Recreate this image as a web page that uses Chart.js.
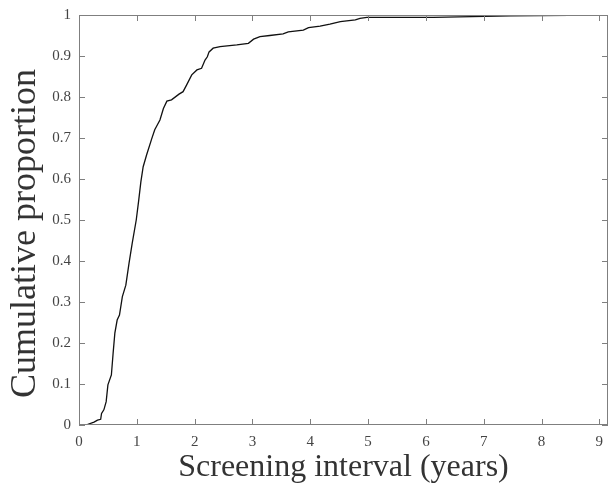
<!DOCTYPE html>
<html>
<head>
<meta charset="utf-8">
<script src="https://cdn.jsdelivr.net/npm/chart.js@4"></script>
<style>
  body { margin: 0; background: #fff; }
  canvas { display: block; }
</style>
</head>
<body>
<canvas id="myChart" width="613" height="489"></canvas>
<script>
// screening interval in years vs cumulative proportion
const intervalYears = [0.12, 0.26, 0.32, 0.375, 0.39, 0.43, 0.47, 0.50, 0.56, 0.59, 0.62, 0.66, 0.70, 0.75, 0.81, 0.865, 0.92, 0.99,
  1.03, 1.07, 1.11, 1.17, 1.26, 1.31, 1.40, 1.46, 1.52, 1.60, 1.73, 1.80, 1.86, 1.95, 2.04, 2.12, 2.18, 2.22, 2.25, 2.32, 2.44,
  2.73, 2.93, 3.02, 3.13, 3.30, 3.53, 3.62, 3.88, 3.97, 4.17, 4.34, 4.52, 4.78, 4.86, 4.98, 6.13, 7.46, 9.0];
const cumProportion = [0.0, 0.007, 0.012, 0.014, 0.028, 0.037, 0.057, 0.098, 0.122, 0.175, 0.224, 0.256, 0.268, 0.313, 0.341, 0.394, 0.443, 0.50,
  0.545, 0.593, 0.630, 0.659, 0.699, 0.720, 0.744, 0.772, 0.790, 0.793, 0.807, 0.813, 0.829, 0.854, 0.866, 0.870, 0.890, 0.898, 0.910, 0.919, 0.923,
  0.927, 0.931, 0.941, 0.947, 0.950, 0.954, 0.959, 0.963, 0.969, 0.973, 0.978, 0.984, 0.988, 0.992, 0.994, 0.994, 0.998, 1.0];

const xTickValues = [0, 1, 2, 3, 4, 5, 6, 7, 8, 9];
const yTickValues = [0, 0.1, 0.2, 0.3, 0.4, 0.5, 0.6, 0.7, 0.8, 0.9, 1];

const serif = '"Liberation Serif", "Times New Roman", serif';
const axisGray = '#7f7f7f';

// MATLAB-ish box with inward ticks on all four sides
const boxTicks = {
  id: 'boxTicks',
  afterDraw(chart) {
    const { ctx, chartArea: a, scales } = chart;
    ctx.save();
    ctx.strokeStyle = axisGray;
    ctx.lineWidth = 1;
    ctx.strokeRect(a.left + 0.5, a.top + 0.5, a.right - a.left - 1, a.bottom - a.top - 1);
    ctx.beginPath();
    xTickValues.forEach(v => {
      const px = Math.round(scales.x.getPixelForValue(v)) + 0.5;
      ctx.moveTo(px, a.bottom); ctx.lineTo(px, a.bottom - 6);
      ctx.moveTo(px, a.top); ctx.lineTo(px, a.top + 6);
    });
    yTickValues.forEach(v => {
      const py = Math.round(scales.y.getPixelForValue(v)) + 0.5;
      ctx.moveTo(a.left, py); ctx.lineTo(a.left + 6, py);
      ctx.moveTo(a.right, py); ctx.lineTo(a.right - 6, py);
    });
    ctx.stroke();
    ctx.restore();
  }
};

const ctx = document.getElementById('myChart').getContext('2d');
new Chart(ctx, {
  type: 'line',
  data: {
    datasets: [{
      data: intervalYears.map((x, i) => ({ x: x, y: cumProportion[i] })),
      borderColor: '#111',
      borderWidth: 1.3,
      pointRadius: 0,
      tension: 0,
      fill: false
    }]
  },
  options: {
    responsive: false,
    animation: false,
    layout: { padding: { top: 15, right: 5, left: 0, bottom: 0 } },
    plugins: { legend: { display: false }, tooltip: { enabled: false } },
    scales: {
      x: {
        type: 'linear',
        min: 0,
        max: 9.15,
        afterBuildTicks: s => { s.ticks = xTickValues.map(v => ({ value: v })); },
        afterFit: s => { s.height = 64; },
        grid: { display: false, drawTicks: false },
        border: { display: false },
        ticks: {
          color: '#444',
          padding: 8,
          maxRotation: 0,
          font: { family: serif, size: 15 },
          callback: v => String(v)
        },
        title: {
          display: true,
          text: 'Screening interval (years)',
          color: '#333',
          padding: { top: 0, bottom: 2 },
          font: { family: serif, size: 32 }
        }
      },
      y: {
        min: 0,
        max: 1,
        afterBuildTicks: s => { s.ticks = yTickValues.map(v => ({ value: v })); },
        afterFit: s => { s.width = 79; s.paddingTop = 0; s.paddingBottom = 0; },
        grid: { display: false, drawTicks: false },
        border: { display: false },
        ticks: {
          color: '#444',
          padding: 8,
          font: { family: serif, size: 15 },
          callback: v => String(Math.round(v * 10) / 10)
        },
        title: {
          display: true,
          // trailing spaces nudge the rotated title down a bit, like the original
          text: 'Cumulative proportion\u00a0\u00a0\u00a0',
          color: '#333',
          padding: { top: 4, bottom: 0 },
          font: { family: serif, size: 36 }
        }
      }
    }
  },
  plugins: [boxTicks]
});
</script>
</body>
</html>
